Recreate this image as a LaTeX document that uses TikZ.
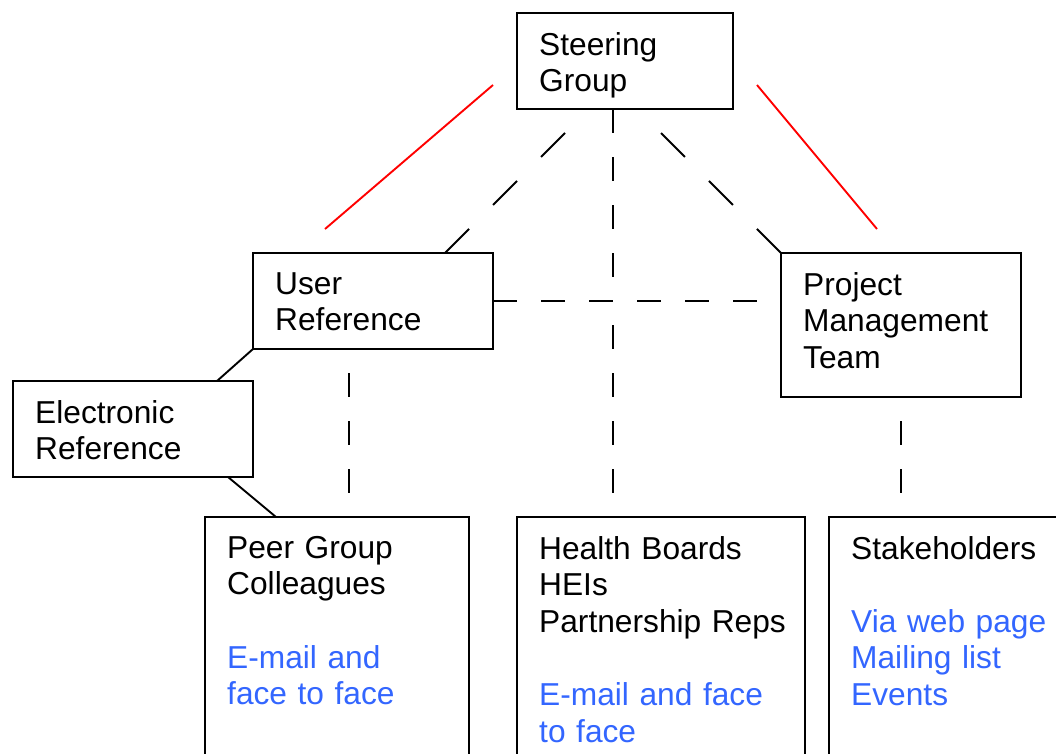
\documentclass[tikz,border=0pt]{standalone}
\usepackage{fontspec}
\setmainfont{Liberation Sans}
\definecolor{linkblue}{RGB}{51,102,255}

\begin{document}
\begin{tikzpicture}[x=1pt, y=-1pt,
        box/.style={draw, line width=1.9pt, anchor=north west, inner sep=0pt, outer sep=0pt},
        txt/.style={anchor=north west, inner sep=0pt, align=left, text width=300pt,
            font=\fontsize{31.7}{36.6}\selectfont},
        link/.style={line width=1.9pt},
        longdash/.style={link, dash pattern=on 24pt off 24pt},
        slantdash/.style={link, dash pattern=on 33.9pt off 33.9pt}]
    \useasboundingbox (0,0) rectangle (1056,753);
    \clip (0,0) rectangle (1056,753);

    % boxes
    \node[box, minimum width=216pt, minimum height=96pt] (steer) at (517,13) {};
    \node[box, minimum width=240pt, minimum height=96pt] (user) at (253,253) {};
    \node[box, minimum width=240pt, minimum height=144pt] (pmt) at (781,253) {};
    \node[box, minimum width=240pt, minimum height=96pt] (elec) at (13,381) {};
    \node[box, minimum width=264pt, minimum height=300pt] (peer) at (205,517) {};
    \node[box, minimum width=288pt, minimum height=300pt] (health) at (517,517) {};
    \node[box, minimum width=300pt, minimum height=300pt] (stake) at (829,517) {};

    % texts
    \node[txt] (steertxt) at ([xshift=22pt, yshift=-19pt]steer.north west) {Steering\\Group};
    \node[txt] (usertxt) at ([xshift=22pt, yshift=-19pt]user.north west) {User\\Reference};
    \node[txt] (pmttxt) at ([xshift=22pt, yshift=-19pt]pmt.north west) {Project\\Management\\Team};
    \node[txt] (electxt) at ([xshift=22pt, yshift=-19pt]elec.north west) {Electronic\\Reference};
    \node[txt] (peertxt) at ([xshift=22pt, yshift=-19pt]peer.north west)
        {Peer Group\\Colleagues\\[36.6pt]\textcolor{linkblue}{E-mail and}\\\textcolor{linkblue}{face to face}};
    \node[txt] (healthtxt) at ([xshift=22pt, yshift=-19pt]health.north west)
        {Health Boards\\HEIs\\Partnership Reps\\[36.6pt]\textcolor{linkblue}{E-mail and face}\\\textcolor{linkblue}{to face}};
    \node[txt] (staketxt) at ([xshift=22pt, yshift=-19pt]stake.north west)
        {Stakeholders\\[36.6pt]\textcolor{linkblue}{Via web page}\\\textcolor{linkblue}{Mailing list}\\\textcolor{linkblue}{Events}};

    % free ends of the connectors
    \coordinate (redla) at (493,85);
    \coordinate (redlb) at (325,229);
    \coordinate (redra) at (757,85);
    \coordinate (redrb) at (877,229);
    \coordinate (steerl) at (565,133);
    \coordinate (steerr) at (661,133);
    \coordinate (steerc) at (613,109);
    \coordinate (userjoin) at (445,253);
    \coordinate (pmtjoin) at (781,301);
    \coordinate (midend) at (613,493);
    \coordinate (usertop) at (349,373);
    \coordinate (userend) at (349,493);
    \coordinate (pmttop) at (901,421);
    \coordinate (pmtend) at (901,493);
    \coordinate (electop) at (217,381);
    \coordinate (elecbot) at (228,477);
    \coordinate (peerjoin) at (276,517);

    % red lines
    \draw[link, red] (redla) -- (redlb);
    \draw[link, red] (redra) -- (redrb);

    % dashed lines
    \draw[slantdash] (steerl) -- (userjoin);
    \draw[slantdash] (steerr) -- (pmt.north west);
    \draw[link, dash pattern=on 24pt off 24pt on 24pt off 24pt on 24pt off 24pt on 24pt off 48pt]
        (steerc) -- (midend);
    \draw[longdash] (user.east) -- (pmtjoin);
    \draw[longdash] (usertop) -- (userend);
    \draw[longdash] (pmttop) -- (pmtend);

    % solid lines
    \draw[link] (user.south west) -- (electop);
    \draw[link] (elecbot) -- (peerjoin);
\end{tikzpicture}
\end{document}
